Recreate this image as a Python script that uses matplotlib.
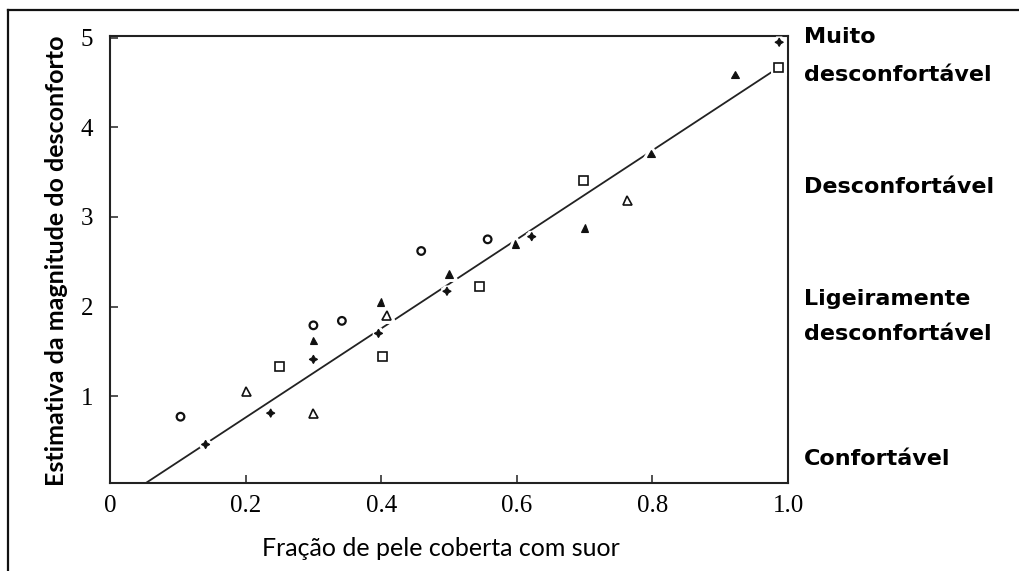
import matplotlib
matplotlib.use('Agg')
import matplotlib.pyplot as plt
import matplotlib.patheffects as pe
from matplotlib.lines import Line2D

# discomfort estimates vs. fraction of skin covered with sweat
star_x = [0.141, 0.237, 0.300, 0.396, 0.497, 0.622, 0.987]
star_y = [0.46, 0.81, 1.41, 1.70, 2.17, 2.78, 4.95]

tri_fill_x = [0.300, 0.399, 0.500, 0.598, 0.700, 0.798, 0.922]
tri_fill_y = [1.62, 2.05, 2.36, 2.70, 2.88, 3.71, 4.59]

tri_open_x = [0.201, 0.300, 0.408, 0.763]
tri_open_y = [1.05, 0.81, 1.90, 3.18]

square_x = [0.250, 0.402, 0.545, 0.699, 0.986]
square_y = [1.33, 1.44, 2.22, 3.41, 4.67]

circle_x = [0.104, 0.300, 0.342, 0.459, 0.557]
circle_y = [0.77, 1.79, 1.84, 2.62, 2.75]

# regression line
fit_slope = 4.97
fit_intercept = -0.233
fit_x = [0.053, 0.986]

x_ticks = [0, 0.2, 0.4, 0.6, 0.8, 1.0]
x_ticklabels = ['0', '0.2', '0.4', '0.6', '0.8', '1.0']
y_ticks = [1, 2, 3, 4, 5]
y_ticklabels = ['1', '2', '3', '4', '5']

# comfort scale written to the right of the plot, one entry per text line
level_lines = ['Muito', 'desconfortável', 'Desconfortável',
               'Ligeiramente', 'desconfortável', 'Confortável']
level_rows = [37, 75, 187, 299, 334, 459]   # pixel rows of the line centres

W, H = 1020, 571


def fx(px):
    return px / W


def fy(py):
    return 1 - py / H


fig = plt.figure(figsize=(W / 100, H / 100), dpi=100)
fig.patch.set_facecolor('white')

# outer frame (only left and top edges are inside the image)
fig.add_artist(Line2D([fx(8), fx(8)], [0, fy(10)], color='#111111', lw=1.6))
fig.add_artist(Line2D([fx(8), 1], [fy(10), fy(10)], color='#111111', lw=1.6))

ax = fig.add_axes([fx(110), fy(483), (788 - 110) / W, (483 - 36) / H])
ax.set_xlim(0.004, 1.0)
ax.set_ylim(0.03, 5.02)

for s in ax.spines.values():
    s.set_linewidth(1.5)
    s.set_color('#222222')

fit_y = [fit_slope * v + fit_intercept for v in fit_x]
ax.plot(fit_x, fit_y, color='#222222', lw=1.3, zorder=2)

halo = [pe.withStroke(linewidth=5, foreground='white')]
kw = dict(ls='none', zorder=3, path_effects=halo, color='#111111')
ax.plot(star_x, star_y, marker=(4, 1, 0), ms=6, mfc='#111111', mew=0.8, **kw)
ax.plot(tri_fill_x, tri_fill_y, marker='^', ms=5.5, mfc='#111111', mew=0.8, **kw)
ax.plot(tri_open_x, tri_open_y, marker='^', ms=6.5, mfc='white', mew=1.2, **kw)
ax.plot(square_x, square_y, marker='s', ms=6.5, mfc='white', mew=1.2, **kw)
ax.plot(circle_x, circle_y, marker='o', ms=5.5, mfc='white', mew=1.6, **kw)

ax.set_xticks(x_ticks)
ax.set_xticklabels(x_ticklabels, family='Liberation Serif', fontsize=18)
ax.set_yticks(y_ticks)
ax.set_yticklabels(y_ticklabels, family='Liberation Serif', fontsize=18)
ax.tick_params(direction='in', length=6, width=1.2, color='#333333')
ax.tick_params(axis='x', pad=9)
ax.tick_params(axis='y', pad=12)

fig.text(fx(441), fy(549), 'Fração de pele coberta com suor',
         ha='center', va='center', fontsize=18, family='Lato')
fig.text(fx(57), fy(261), 'Estimativa da magnitude do desconforto',
         ha='center', va='center', rotation=90, fontsize=18,
         family='Lato', fontweight='bold')

for label, py in zip(level_lines, level_rows):
    fig.text(fx(804), fy(py), label, ha='left', va='center',
             fontsize=16, fontweight='bold', family='DejaVu Sans')

fig.savefig('out.png', dpi=100)
